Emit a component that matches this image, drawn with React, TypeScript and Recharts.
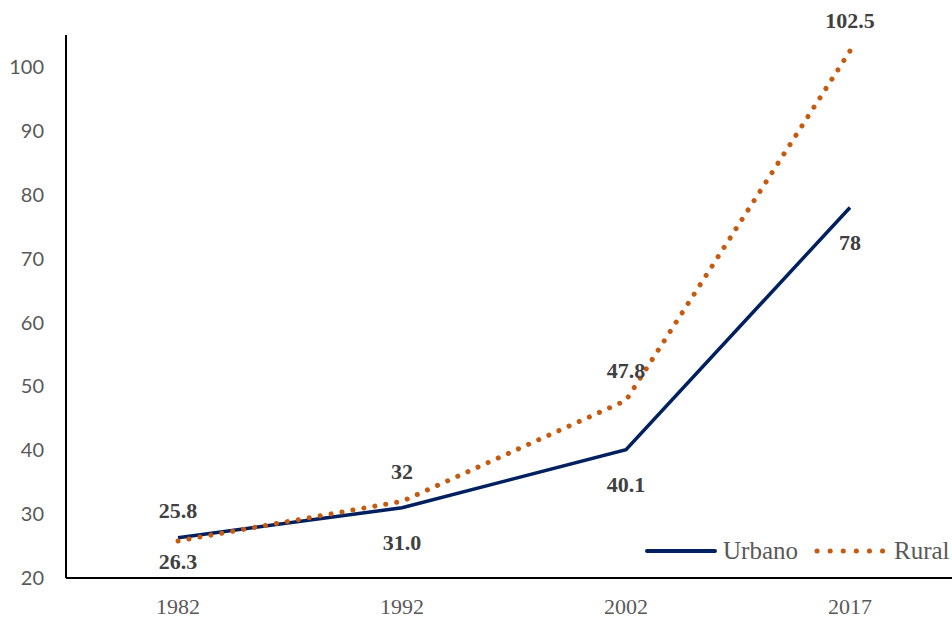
import React from 'react';
import { LineChart, Line, XAxis, YAxis, Legend, LabelList } from 'recharts';

// Datos de la gráfica
const years = ['1982', '1992', '2002', '2017'];
const urbano = [26.3, 31.0, 40.1, 78];
const rural = [25.8, 32, 47.8, 102.5];
const urbanoLabels = ['26.3', '31.0', '40.1', '78'];
const ruralLabels = ['25.8', '32', '47.8', '102.5'];
const yTicks = [20, 30, 40, 50, 60, 70, 80, 90, 100];

const colors = {
  urbano: '#002060',
  rural: '#C55A11',
  axis: '#000000',
  tick: '#595959',
  label: '#404040',
};

const serif = "'Liberation Serif', 'DejaVu Serif', serif";

const data = years.map((year, i) => ({ year, Urbano: urbano[i], Rural: rural[i] }));

function makeLabel(texts: string[], dyFor: (i: number) => number) {
  return (props: any) => {
    const { x, y, index } = props;
    return (
      <text
        x={x}
        y={y + dyFor(index)}
        textAnchor="middle"
        dominantBaseline="central"
        fill={colors.label}
        fontFamily={serif}
        fontWeight="bold"
        fontSize={22}
      >
        {texts[index]}
      </text>
    );
  };
}

function CustomLegend() {
  return (
    <div
      style={{
        display: 'flex',
        alignItems: 'center',
        fontFamily: serif,
        fontSize: 25,
        color: colors.tick,
        whiteSpace: 'nowrap',
      }}
    >
      <svg width={72} height={10}>
        <line x1={2} y1={5} x2={70} y2={5} stroke={colors.urbano} strokeWidth={4} strokeLinecap="round" />
      </svg>
      <span style={{ marginLeft: 6 }}>Urbano</span>
      <svg width={72} height={10} style={{ marginLeft: 16 }}>
        <line
          x1={3}
          y1={5}
          x2={70}
          y2={5}
          stroke={colors.rural}
          strokeWidth={5}
          strokeDasharray="0.1 13"
          strokeLinecap="round"
        />
      </svg>
      <span style={{ marginLeft: 8 }}>Rural</span>
    </div>
  );
}

export default function App() {
  return (
    <div
      style={{
        position: 'absolute',
        left: 0,
        top: 0,
        width: 952,
        height: 620,
        overflow: 'hidden',
        background: '#fff',
      }}
    >
      <LineChart width={980} height={620} data={data} margin={{ top: 35, right: 18, bottom: 0, left: 0 }}>
        <XAxis
          dataKey="year"
          scale="point"
          padding={{ left: 112, right: 112 }}
          height={42}
          axisLine={{ stroke: colors.axis, strokeWidth: 2 }}
          tickLine={false}
          tickSize={0}
          tickMargin={20}
          tick={{ fill: colors.tick, fontSize: 22, fontFamily: serif }}
        />
        <YAxis
          width={66}
          domain={[20, 105]}
          ticks={yTicks}
          axisLine={{ stroke: colors.axis, strokeWidth: 2 }}
          tickLine={false}
          tickSize={0}
          tickMargin={22}
          tick={{ fill: colors.tick, fontSize: 20, fontFamily: "Lato, 'Open Sans', sans-serif" }}
        />
        <Legend
          content={<CustomLegend />}
          layout="horizontal"
          align="center"
          verticalAlign="middle"
          wrapperStyle={{ left: 645, top: 537, width: 340 }}
        />
        <Line
          type="linear"
          dataKey="Urbano"
          stroke={colors.urbano}
          strokeWidth={3.5}
          dot={false}
          isAnimationActive={false}
        >
          <LabelList dataKey="Urbano" content={makeLabel(urbanoLabels, (i) => (i === 0 ? 24 : 35))} />
        </Line>
        <Line
          type="linear"
          dataKey="Rural"
          stroke={colors.rural}
          strokeWidth={5}
          strokeDasharray="0.1 11"
          strokeLinecap="round"
          dot={false}
          isAnimationActive={false}
        >
          <LabelList dataKey="Rural" content={makeLabel(ruralLabels, () => -30)} />
        </Line>
      </LineChart>
    </div>
  );
}
